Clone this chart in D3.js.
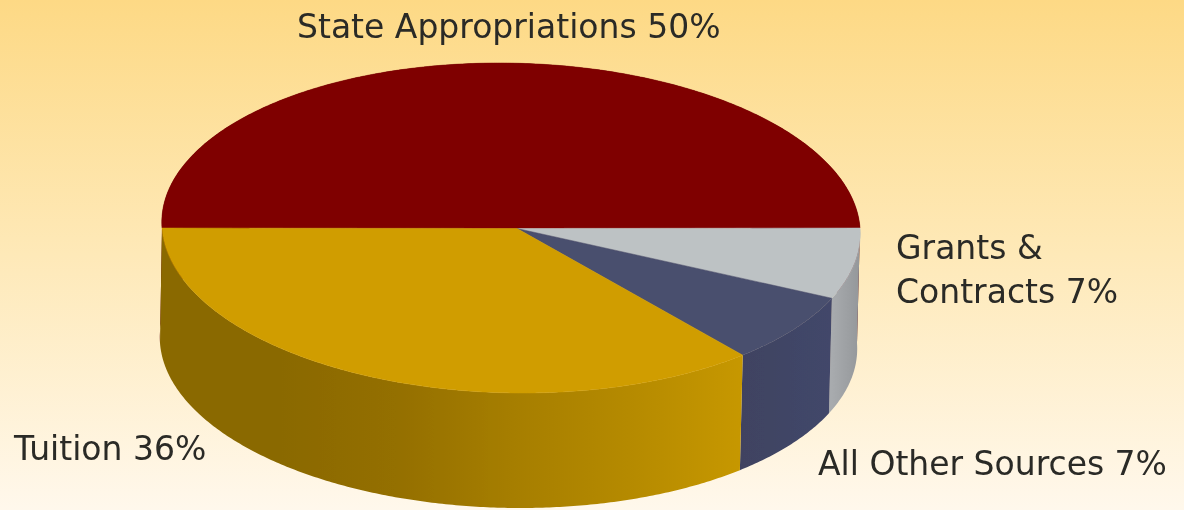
<!DOCTYPE html>
<html>
<head>
<meta charset="utf-8">
<script src="https://cdn.jsdelivr.net/npm/d3@7/dist/d3.min.js"></script>
<style>
html, body { margin: 0; padding: 0; background: #fff8ec; }
svg { display: block; }
text { font-family: "DejaVu Sans", sans-serif; fill: #2a2a26; }
</style>
</head>
<body>
<div class="chart"></div>
<script>
var categories = ["State Appropriations", "Grants & Contracts", "All Other Sources", "Tuition"];
var shares = [50, 7, 7, 36];
var topColors = ["#7f0000", "#bdc2c4", "#4a4f6e", "#d09d00"];
var wallColors = [
	["#5a0000", "#5a0000"],
	["#a8abae", "#94979a"],
	["#3f4361", "#42476a"],
	["#8a6900", "#8a6900", "#946f00", "#a67e00", "#b58a00", "#c79800"]
];

var width = 1184, height = 510;

var svg = d3.select(".chart").append("svg")
	.attr("width", width)
	.attr("height", height);
var defs = svg.append("defs");

var bg = defs.append("linearGradient").attr("id", "bg")
	.attr("x1", 0).attr("y1", 0).attr("x2", 0).attr("y2", 1);
bg.append("stop").attr("offset", 0).attr("stop-color", "#fdd985");
bg.append("stop").attr("offset", 0.5).attr("stop-color", "#fee9b8");
bg.append("stop").attr("offset", 1).attr("stop-color", "#fff8ec");

defs.append("filter").attr("id", "soft")
	.append("feGaussianBlur").attr("stdDeviation", 0.6);

svg.append("rect").attr("width", width).attr("height", height).attr("fill", "url(#bg)");

var root = svg.append("g").attr("filter", "url(#soft)");

// the picture is a slightly skewed ellipse, so the rim goes through two scales per axis
var topX = d3.scaleLinear().domain([-1, 1]).range([162, 860]);
var topY = d3.scaleLinear().domain([-1, 1]).range([63, 393]);
var baseX = d3.scaleLinear().domain([-1, 1]).range([160, 857]);
var baseY = d3.scaleLinear().domain([-1, 1]).range([178, 508]);
var skew = d3.scaleLinear().domain([-1, 1]).range([-12, 12]);
var apex = [517, 228.5];

function rim(xs, ys, a) {
	var dy = -Math.cos(a);
	return [xs(Math.sin(a)) + skew(dy), ys(dy)];
}

function samples(a0, a1) {
	var n = Math.ceil(Math.abs(a1 - a0) / 0.01);
	return d3.range(n + 1).map(function (i) { return a0 + (a1 - a0) * i / n; });
}

var pie = d3.pie().sort(null).startAngle(-Math.PI / 2).endAngle(Math.PI * 1.5);
var slices = pie(shares);
var line = d3.line();

// side walls, only the front half can be seen
var walls = slices.filter(function (d) { return d.endAngle > Math.PI / 2; });

walls.forEach(function (d) {
	var grad = defs.append("linearGradient")
		.attr("id", "wall" + d.index)
		.attr("gradientUnits", "userSpaceOnUse")
		.attr("x1", d.index == 3 ? 280 : rim(topX, topY, d.endAngle)[0])
		.attr("x2", d.index == 3 ? 745 : rim(topX, topY, d.startAngle)[0])
		.attr("y1", 0).attr("y2", 0);
	var cols = wallColors[d.index].slice(d.index == 3 ? 1 : 0);
	cols.forEach(function (c, i) {
		grad.append("stop").attr("offset", i / (cols.length - 1)).attr("stop-color", c);
	});
});

root.selectAll("path.wall")
	.data(walls)
	.enter().append("path")
	.attr("class", "wall")
	.attr("fill", function (d) { return "url(#wall" + d.index + ")"; })
	.attr("d", function (d) {
		var s = samples(d.startAngle, d.endAngle);
		var upper = s.map(function (a) { return rim(topX, topY, a); });
		var lower = s.slice().reverse().map(function (a) { return rim(baseX, baseY, a); });
		return line(upper.concat(lower)) + "Z";
	});

root.selectAll("path.top")
	.data(slices)
	.enter().append("path")
	.attr("class", "top")
	.attr("fill", function (d) { return topColors[d.index]; })
	.attr("stroke", function (d) { return topColors[d.index]; })
	.attr("stroke-width", 0.5)
	.attr("d", function (d) {
		var pts = samples(d.startAngle, d.endAngle).map(function (a) { return rim(topX, topY, a); });
		return line([apex].concat(pts)) + "Z";
	});

// labels
function label(lines, x, y) {
	var t = root.append("text").attr("x", x).attr("y", y).style("font-size", "33px");
	lines.forEach(function (s, i) {
		t.append("tspan").attr("x", x).attr("dy", i ? 44 : 0).text(s);
	});
}
label([categories[0] + " " + shares[0] + "%"], 297, 38);
label(["Grants &", "Contracts " + shares[1] + "%"], 896, 259);
label([categories[3] + " " + shares[3] + "%"], 14, 460);
label([categories[2] + " " + shares[2] + "%"], 818, 475);
</script>
</body>
</html>
